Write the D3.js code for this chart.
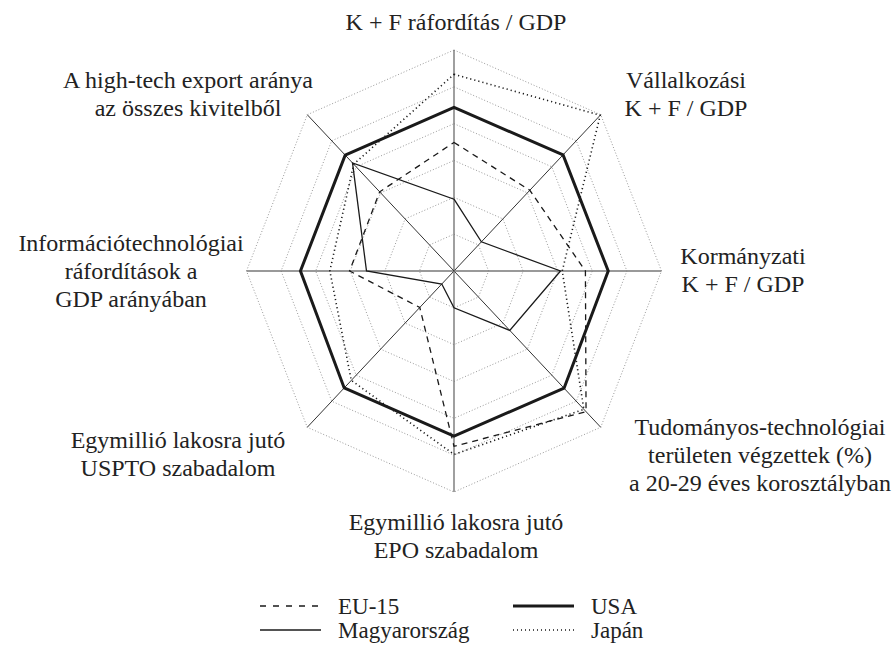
<!DOCTYPE html>
<html>
<head>
<meta charset="utf-8">
<script src="https://cdn.jsdelivr.net/npm/d3@7"></script>
<style>
  body { margin: 0; background: #fff; }
</style>
</head>
<body>
<div id="chart"></div>
<script>
// axes, clockwise from the top
var axes = [
  ["K + F ráfordítás / GDP"],
  ["Vállalkozási", "K + F / GDP"],
  ["Kormányzati", "K + F / GDP"],
  ["Tudományos-technológiai", "területen végzettek (%)", "a 20-29 éves korosztályban"],
  ["Egymillió lakosra jutó", "EPO szabadalom"],
  ["Egymillió lakosra jutó", "USPTO szabadalom"],
  ["Információtechnológiai", "ráfordítások a", "GDP arányában"],
  ["A high-tech export aránya", "az összes kivitelből"]
];
var levels = [1, 2, 3, 4, 5, 6];

var eu15 = [3.49, 3.1, 3.8, 5.4, 4.76, 1.4, 3.02, 3.04];
var usa = [4.44, 4.46, 4.46, 4.5, 4.48, 4.49, 4.44, 4.45];
var hungary = [1.95, 1.12, 3.08, 2.28, 1.0, 0.5, 2.53, 4.15];
var japan = [5.34, 5.98, 3.13, 5.31, 4.98, 4.2, 3.59, 4.1];

var width = 894, height = 657;
var cx = 454, cy = 271;
var font = "'Liberation Serif', 'DejaVu Serif', serif";

var svg = d3.select("#chart").append("svg")
  .attr("width", width)
  .attr("height", height)
  .attr("font-family", font);

// the picture is a little taller than wide, so two radial scales
var rx = d3.scaleLinear().domain([0, 6]).range([0, 207.5]);
var ry = d3.scaleLinear().domain([0, 6]).range([0, 221]);
var angle = d3.scaleLinear().domain([0, axes.length]).range([0, 2 * Math.PI]);

function px(v, i) { return cx + rx(v) * Math.sin(angle(i)); }
function py(v, i) { return cy - ry(v) * Math.cos(angle(i)); }

var line = d3.line()
  .x(function(d, i) { return px(d, i); })
  .y(function(d, i) { return py(d, i); })
  .curve(d3.curveLinearClosed);

// grid rings
svg.append("g").selectAll("path")
  .data(levels)
  .join("path")
  .attr("d", function(l) { return line(axes.map(function() { return l; })); })
  .attr("fill", "none")
  .attr("stroke", "#999")
  .attr("stroke-width", 1)
  .attr("stroke-dasharray", "1,2");

// spokes
svg.append("g").selectAll("line")
  .data(axes)
  .join("line")
  .attr("x1", cx).attr("y1", cy)
  .attr("x2", function(d, i) { return px(6, i); })
  .attr("y2", function(d, i) { return py(6, i); })
  .attr("stroke", function(d, i) { return i % 2 == 0 ? "#777" : "#333"; })
  .attr("stroke-width", function(d, i) { return i % 2 == 0 ? 1.4 : 1; });

var series = [
  { values: eu15, width: 1.3, dash: "6,5", legendDash: "6,7" },
  { values: japan, width: 1.6, dash: "1.2,3", legendDash: "1,3" },
  { values: hungary, width: 1.3, dash: null, legendDash: null },
  { values: usa, width: 3, dash: null, legendDash: null }
];

svg.append("g").selectAll("path")
  .data(series)
  .join("path")
  .attr("d", function(s) { return line(s.values); })
  .attr("fill", "none")
  .attr("stroke", "#1a1a1a")
  .attr("stroke-width", function(s) { return s.width; })
  .attr("stroke-dasharray", function(s) { return s.dash; })
  .attr("stroke-linejoin", "miter");

// axis labels
var labelPos = [
  [456, 22], [686, 80], [743, 256], [760, 427],
  [456, 522], [178, 440], [131, 243], [188, 80]
];
var lineH = 28;
var labels = svg.append("g").selectAll("text")
  .data(axes)
  .join("text")
  .attr("text-anchor", "middle")
  .attr("font-size", 24)
  .attr("fill", "#222")
  .attr("dominant-baseline", "central");
labels.selectAll("tspan")
  .data(function(d, i) { return d.map(function(t) { return { t: t, i: i }; }); })
  .join("tspan")
  .attr("x", function(d) { return labelPos[d.i][0]; })
  .attr("y", function(d, j) { return labelPos[d.i][1] + j * lineH; })
  .text(function(d) { return d.t; });

// legend
var legend = [
  { name: "EU-15", s: series[0], x: 260, y: 606 },
  { name: "USA", s: series[3], x: 513, y: 606 },
  { name: "Magyarország", s: series[2], x: 260, y: 630 },
  { name: "Japán", s: series[1], x: 513, y: 630 }
];
var lg = svg.append("g").selectAll("g")
  .data(legend)
  .join("g");
lg.append("line")
  .attr("x1", function(d) { return d.x; })
  .attr("x2", function(d) { return d.x + 61; })
  .attr("y1", function(d) { return d.y; })
  .attr("y2", function(d) { return d.y; })
  .attr("stroke", "#1a1a1a")
  .attr("stroke-width", function(d) { return d.s.width; })
  .attr("stroke-dasharray", function(d) { return d.s.legendDash; });
lg.append("text")
  .attr("x", function(d) { return d.x + 78; })
  .attr("y", function(d) { return d.y; })
  .attr("dominant-baseline", "central")
  .attr("font-size", 23)
  .attr("fill", "#222")
  .text(function(d) { return d.name; });
</script>
</body>
</html>
